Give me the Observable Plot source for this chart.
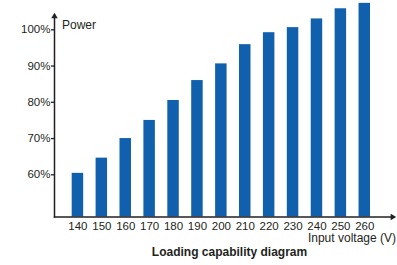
<!DOCTYPE html>
<html>
<head>
<meta charset="utf-8">
<script src="https://cdn.jsdelivr.net/npm/d3@7"></script>
<script src="https://cdn.jsdelivr.net/npm/@observablehq/plot@0.6"></script>
<style>
  html, body { margin: 0; padding: 0; background: #fff; }
  #chart svg { display: block; }
</style>
</head>
<body>
<div id="chart"></div>
<script>
const voltages = [140, 150, 160, 170, 180, 190, 200, 210, 220, 230, 240, 250, 260];
const power = [60.4, 64.6, 70.0, 75.0, 80.5, 86.0, 90.6, 95.9, 99.2, 100.6, 103.0, 105.8, 107.3];
const yTicks = [60, 70, 80, 90, 100];
const yLabel = "Power";
const xLabel = "Input voltage (V)";
const title = "Loading capability diagram";

const data = voltages.map((v, i) => ({v, p: power[i]}));
const yMin = 48.36;
const ink = "#231f20";
const blue = "#1060ae";
const font = "Liberation Sans, Arial, Helvetica, sans-serif";

const chart = Plot.plot({
  width: 397,
  height: 265,
  marginLeft: 54,
  marginRight: 5,
  marginTop: 16,
  marginBottom: 48.5,
  style: {fontFamily: font, fontSize: "11px", color: ink, background: "#fff"},
  x: {type: "linear", domain: [130.2, 271.6]},
  y: {domain: [yMin, 103.67]},
  marks: [
    Plot.rectY(data, {x1: d => d.v - 2.4, x2: d => d.v + 2.4, y1: yMin, y2: "p", fill: blue}),
    Plot.axisY({ticks: yTicks, tickFormat: d => d + "%", tickSize: 3, tickPadding: 1, stroke: ink, strokeWidth: 1.3, fill: ink, label: null, fontSize: 11.5}),
    Plot.axisX({ticks: voltages, tickFormat: d => String(d), tickSize: 0, tickPadding: 4.5, fill: ink, label: null, fontSize: 11.5}),
    Plot.frame({anchor: "left", stroke: ink, strokeWidth: 1.5}),
    Plot.frame({anchor: "bottom", stroke: ink, strokeWidth: 1.5}),
    Plot.dot([0], {frameAnchor: "top-left", symbol: "triangle", r: 2.4, fill: ink, stroke: null}),
    Plot.dot([0], {frameAnchor: "bottom-right", symbol: "triangle", r: 2.4, fill: ink, stroke: null, rotate: 90}),
    Plot.text([yLabel], {text: d => d, frameAnchor: "top-left", textAnchor: "start", dx: 7.5, dy: 3.5, fill: ink, fontSize: 12}),
    Plot.text([xLabel], {text: d => d, frameAnchor: "bottom-right", textAnchor: "end", dx: 3.5, dy: 25, fill: ink, fontSize: 12}),
    Plot.text([title], {text: d => d, frameAnchor: "bottom", dx: 6, dy: 38.5, fill: ink, fontSize: 12, fontWeight: "bold"})
  ]
});
document.getElementById("chart").appendChild(chart);
</script>
</body>
</html>
